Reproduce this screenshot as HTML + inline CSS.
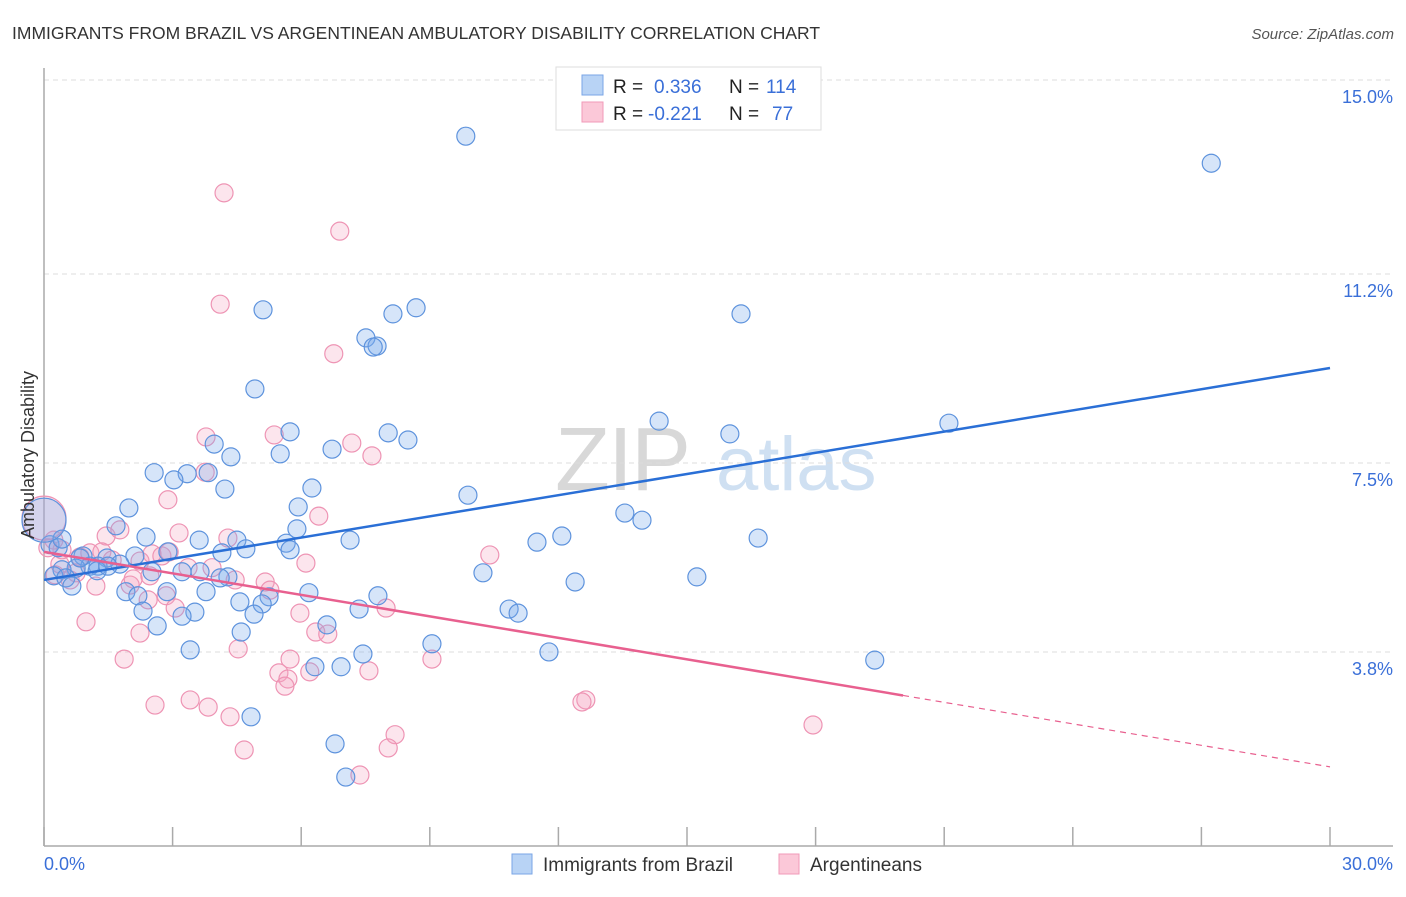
<!DOCTYPE html>
<html><head><meta charset="utf-8"><style>
body{margin:0;background:#fff;font-family:"Liberation Sans",sans-serif;}
svg text{font-family:"Liberation Sans",sans-serif;}
</style></head><body>
<svg id="chart" width="1406" height="892" viewBox="0 0 1406 892" xmlns="http://www.w3.org/2000/svg">
<text x="12" y="39" font-size="17.5" fill="#333">IMMIGRANTS FROM BRAZIL VS ARGENTINEAN AMBULATORY DISABILITY CORRELATION CHART</text>
<text x="1394" y="39" font-size="15" fill="#555" font-style="italic" text-anchor="end">Source: ZipAtlas.com</text>
<g>
<text x="555" y="490" font-size="90" fill="#d8d8d8" font-family="Liberation Serif" letter-spacing="-2">ZIP</text>
<text x="716" y="490" font-size="76" fill="#cfe0f2">atlas</text>
</g>
<g id="grid"></g>
<g id="axes"></g>
<g id="pink"></g>
<g id="blue"></g>
<g id="trends"></g>
<text transform="translate(34,455) rotate(-90)" font-size="18" fill="#333" text-anchor="middle">Ambulatory Disability</text>
<g>
<rect x="556" y="67" width="265" height="63" fill="#fff" stroke="#ddd"/>
<rect x="582" y="75" width="21" height="20" fill="#b8d3f5" stroke="#7aa6e6"/>
<rect x="582" y="102" width="21" height="20" fill="#fbc8d8" stroke="#f09ab8"/>
<text x="613" y="93" font-size="19" fill="#222">R = </text><text x="654" y="93" font-size="19" fill="#3a6fd8">0.336</text>
<text x="729" y="93" font-size="19" fill="#222">N = </text><text x="766" y="93" font-size="19" fill="#3a6fd8">114</text>
<text x="613" y="120" font-size="19" fill="#222">R = </text><text x="648" y="120" font-size="19" fill="#3a6fd8">-0.221</text>
<text x="729" y="120" font-size="19" fill="#222">N = </text><text x="772" y="120" font-size="19" fill="#3a6fd8">77</text>
</g>
<g>
<rect x="512" y="854" width="20" height="20" fill="#b8d3f5" stroke="#7aa6e6"/>
<text x="543" y="871" font-size="19" fill="#333">Immigrants from Brazil</text>
<rect x="779" y="854" width="20" height="20" fill="#fbc8d8" stroke="#f09ab8"/>
<text x="810" y="871" font-size="19" fill="#333">Argentineans</text>
</g>
</svg>
<script>
const yTicks=[15.0,11.2,7.5,3.8];
const yTickLabels=["15.0%","11.2%","7.5%","3.8%"];
const xTicks=[0,3,6,9,12,15,18,21,24,27,30];
const xLabels=["0.0%","30.0%"];
const blueX=[9.84,27.23,5.11,8.68,8.14,16.26,7.51,7.77,7.68,4.92,14.35,21.11,16.00,5.74,8.03,8.49,3.97,6.72,5.51,4.36,2.57,3.34,3.03,3.83,4.22,6.25,9.89,1.98,5.93,13.55,13.95,1.68,2.38,5.90,3.62,4.50,7.14,11.50,12.08,16.66,5.65,5.74,4.71,4.15,2.89,2.12,0.91,1.47,1.77,1.26,1.07,0.75,0.42,0.23,0.51,0.65,1.24,1.49,2.52,3.22,3.64,4.29,4.11,10.24,12.39,15.23,1.91,2.19,2.87,3.78,6.18,7.79,5.25,5.09,4.57,2.31,3.52,7.35,10.85,11.06,2.64,3.22,4.90,4.60,6.60,9.05,3.41,7.44,11.78,19.38,6.93,6.32,4.83,6.79,7.04,0.14,0.33,0.42,0.84];
const blueY=[13.90,13.37,10.50,10.54,10.42,10.42,9.95,9.79,9.77,8.95,8.32,8.28,8.07,8.11,8.09,7.95,7.87,7.77,7.68,7.62,7.31,7.29,7.17,7.31,6.99,7.01,6.87,6.62,6.64,6.52,6.38,6.27,6.05,6.21,5.99,5.99,5.99,5.95,6.07,6.03,5.93,5.80,5.82,5.74,5.76,5.68,5.68,5.64,5.52,5.48,5.48,5.44,5.41,5.29,5.25,5.09,5.39,5.48,5.37,5.37,5.37,5.27,5.25,5.35,5.17,5.27,4.98,4.90,4.98,4.98,4.96,4.90,4.88,4.74,4.78,4.60,4.58,4.64,4.64,4.56,4.31,4.50,4.54,4.19,4.33,3.96,3.84,3.76,3.80,3.64,3.51,3.51,2.53,2.00,1.35,5.90,5.84,6.01,5.64];
const pinkX=[4.20,6.90,4.11,6.76,3.78,5.37,7.18,7.65,3.76,2.89,6.41,3.15,4.29,1.45,1.77,0.84,1.07,1.35,2.24,2.52,2.75,2.92,3.36,3.92,2.01,2.08,2.47,4.46,5.16,5.27,2.85,2.43,3.06,5.97,7.98,6.34,6.62,0.98,2.24,4.53,1.87,5.74,9.05,7.58,5.48,6.20,5.69,5.62,3.41,2.59,3.83,4.34,12.64,12.55,17.94,8.19,8.03,4.67,7.37,10.40,6.11,0.37,0.61,1.21,0.75,0.42,0.23,0.09,1.59,0.26];
const pinkY=[12.79,12.04,10.61,9.64,8.01,8.05,7.89,7.64,7.32,6.78,6.46,6.13,6.03,6.07,6.19,5.66,5.74,5.76,5.58,5.72,5.68,5.76,5.45,5.45,5.11,5.23,5.29,5.21,5.17,5.01,4.90,4.82,4.66,4.56,4.66,4.19,4.15,4.39,4.17,3.86,3.66,3.66,3.66,3.43,3.39,3.41,3.27,3.13,2.86,2.76,2.72,2.53,2.86,2.82,2.37,2.18,1.92,1.88,1.39,5.70,5.54,5.52,5.21,5.09,5.35,5.80,5.99,5.84,5.60,5.31];
const bigPoints=[{s:"blue",x:0,y:6.38},{s:"pink",x:0,y:6.42}];
const blueTrend=[5.21,9.36];   // value at 0% and 30%
const pinkTrend=[5.76,1.55];   // value at 0% and 30%
const pinkSolidEnd=20.04;

const NS="http://www.w3.org/2000/svg";
const X0=44,X1=1330,Y0=846,Y15=80;
const sx=v=>X0+(X1-X0)*v/30;
const sy=v=>Y0-(Y0-Y15)*v/15;
function mk(tag,attrs,parent){const e=document.createElementNS(NS,tag);for(const k in attrs)e.setAttribute(k,attrs[k]);parent.appendChild(e);return e;}
const grid=document.getElementById('grid'),axes=document.getElementById('axes');
yTicks.forEach((t,i)=>{
  const g=mk('line',{x1:X0,x2:1393,y1:sy(t),y2:sy(t),stroke:'#ddd','stroke-dasharray':'5,4'},grid);
  
  
  const l=mk('text',{x:1393,y:sy(t)+23,'font-size':18,fill:'#3a6fd8','text-anchor':'end'},axes);
  l.textContent=yTickLabels[i];
  
  
});
const ya=mk('line',{x1:X0,x2:X0,y1:68,y2:846,stroke:'#aaa','stroke-width':1.5},axes);


const xa=mk('line',{x1:X0,x2:1393,y1:846,y2:846,stroke:'#aaa','stroke-width':1.5},axes);


xTicks.forEach(t=>{
  const k=mk('line',{x1:sx(t),x2:sx(t),y1:827,y2:846,stroke:'#aaa','stroke-width':1.5},axes);
  
  
});
const xl0=mk('text',{x:44,y:870,'font-size':18,fill:'#3a6fd8'},axes);xl0.textContent=xLabels[0];


const xl1=mk('text',{x:1393,y:870,'font-size':18,fill:'#3a6fd8','text-anchor':'end'},axes);xl1.textContent=xLabels[1];



const styles={blue:{fill:'rgba(120,170,235,0.3)',stroke:'#5e93dd'},pink:{fill:'rgba(245,160,190,0.28)',stroke:'#ee94b4'}};
function dots(xs,ys,key){
  const g=document.getElementById(key);
  xs.forEach((x,i)=>{
    const c=mk('circle',{cx:sx(x),cy:sy(ys[i]),r:9,fill:styles[key].fill,stroke:styles[key].stroke,'stroke-width':1.2},g);
    
    
  });
}
dots(pinkX,pinkY,'pink');dots(blueX,blueY,'blue');
bigPoints.forEach(p=>{
  const c=mk('circle',{cx:sx(p.x),cy:sy(p.y),r:22,fill:styles[p.s].fill,stroke:styles[p.s].stroke,'stroke-width':1.2},document.getElementById(p.s));
  
  
});
const tr=document.getElementById('trends');
const bt=mk('line',{x1:sx(0),y1:sy(blueTrend[0]),x2:sx(30),y2:sy(blueTrend[1]),stroke:'#2a6fd6','stroke-width':2.5},tr);


const pv=x=>pinkTrend[0]+(pinkTrend[1]-pinkTrend[0])*x/30;
const pt=mk('line',{x1:sx(0),y1:sy(pv(0)),x2:sx(pinkSolidEnd),y2:sy(pv(pinkSolidEnd)),stroke:'#e8608f','stroke-width':2.5},tr);


const pd=mk('line',{x1:sx(pinkSolidEnd),y1:sy(pv(pinkSolidEnd)),x2:sx(30),y2:sy(pv(30)),stroke:'#e8608f','stroke-width':1.2,'stroke-dasharray':'6,5'},tr);


</script>
</body></html>
